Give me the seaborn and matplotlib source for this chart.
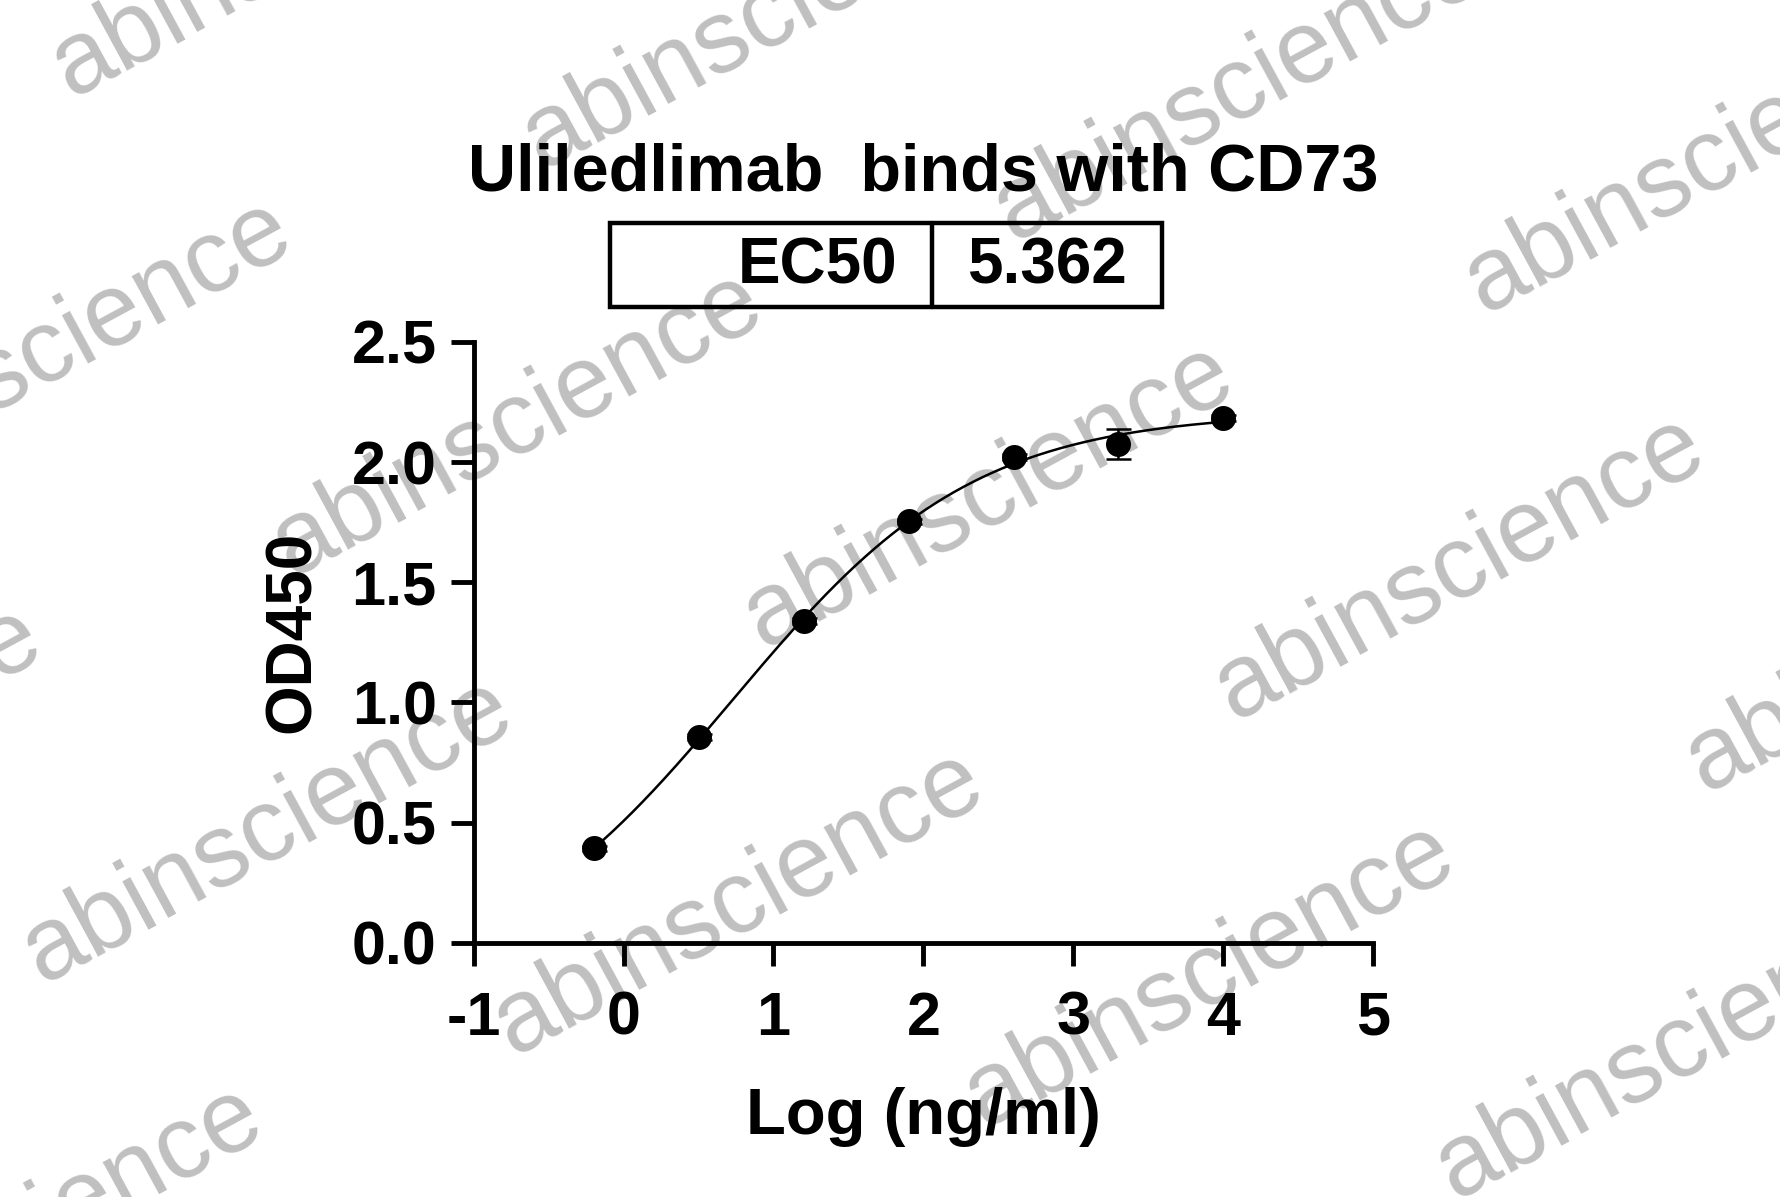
import numpy as np
import pandas as pd
import matplotlib
matplotlib.use("Agg")
import matplotlib.pyplot as plt
import seaborn as sns
from matplotlib.patches import Rectangle
from matplotlib.lines import Line2D

# ---------------- data ----------------
conc_ng_ml = [0.64, 3.2, 16, 80, 400, 2000, 10000]
od450 = [0.392, 0.857, 1.340, 1.753, 2.020, 2.075, 2.184]
od450_sd = [0.010, 0.012, 0.012, 0.012, 0.012, 0.062, 0.012]
ec50_ng_ml = 5.362
x_ticks = [-1, 0, 1, 2, 3, 4, 5]
x_tick_labels = ["-1", "0", "1", "2", "3", "4", "5"]
y_ticks = [0.0, 0.5, 1.0, 1.5, 2.0, 2.5]
y_tick_labels = ["0.0", "0.5", "1.0", "1.5", "2.0", "2.5"]
title_text = "Uliledlimab  binds with CD73"
x_label = "Log (ng/ml)"
y_label = "OD450"
watermark = "abinscience"

W, H = 1781, 1197
DPI = 100

sns.set_theme(style="ticks")
plt.rcParams["font.family"] = ["Liberation Sans", "DejaVu Sans"]
plt.rcParams["axes.unicode_minus"] = False

fig = plt.figure(figsize=(W / DPI, H / DPI), dpi=DPI, facecolor="white")


def fx(px):
    return px / W


def fy(py):
    return 1 - py / H


# axes placement (pixels)
ax_l, ax_r, ax_t, ax_b = 473.6, 1373.2, 341.9, 942.7
ax = fig.add_axes([fx(ax_l), fy(ax_b), (ax_r - ax_l) / W, (ax_b - ax_t) / H])
ax.set_facecolor("none")

lx = np.log10(np.array(conc_ng_ml, dtype=float))
yv = np.array(od450)
sd = np.array(od450_sd)

# 4PL fit with EC50 fixed at the reported value
logec = np.log10(ec50_ng_ml)
best = None
for h in np.arange(0.2, 3.0, 0.002):
    f = 1.0 / (1.0 + 10 ** ((logec - lx) * h))
    A = np.column_stack([1 - f, f])
    coef = np.linalg.lstsq(A, yv, rcond=None)[0]
    sse = float(np.sum((A @ coef - yv) ** 2))
    if best is None or sse < best[0]:
        best = (sse, h, coef[0], coef[1])
_, hill, bottom, top = best
xx = np.linspace(lx.min(), lx.max(), 400)
yy = bottom + (top - bottom) / (1.0 + 10 ** ((logec - xx) * hill))

curve = pd.DataFrame({"x": xx, "y": yy})
pts = pd.DataFrame({"x": lx, "y": yv})

sns.lineplot(data=curve, x="x", y="y", color="black", linewidth=1.8,
             estimator=None, ax=ax, zorder=2)
ax.errorbar(lx, yv, yerr=sd, fmt="none", ecolor="black", elinewidth=1.8,
            capsize=9, capthick=1.8, zorder=3)
sns.scatterplot(data=pts, x="x", y="y", s=324, color="black",
                edgecolor="black", linewidth=0, ax=ax, zorder=4, clip_on=False)

ax.set_xlim(-1, 5)
ax.set_ylim(0, 2.5)
ax.set_xticks(x_ticks)
ax.set_xticklabels(x_tick_labels)
ax.set_yticks(y_ticks)
ax.set_yticklabels(y_tick_labels)
ax.set_xlabel("")
ax.set_ylabel("")
sns.despine(ax=ax)
for s in ["left", "bottom"]:
    ax.spines[s].set_linewidth(3.5)
    ax.spines[s].set_color("black")
ax.tick_params(axis="both", direction="out", length=16.5, width=3.5,
               colors="black", labelsize=44)
ax.tick_params(axis="x", pad=18)
ax.tick_params(axis="y", pad=10)
for lab in ax.get_xticklabels() + ax.get_yticklabels():
    lab.set_fontweight("bold")

# title
fig.text(fx(923), fy(191), title_text, ha="center", va="baseline",
         fontsize=48, fontweight="bold", color="black")

# EC50 box
bx0, bx1, by0, by1, bdiv = 610, 1162, 223, 307, 932.5
fig.add_artist(Rectangle((fx(bx0), fy(by1)), (bx1 - bx0) / W, (by1 - by0) / H,
                         transform=fig.transFigure, fill=False,
                         edgecolor="black", linewidth=3.2))
fig.add_artist(Line2D([fx(bdiv), fx(bdiv)], [fy(by0), fy(by1)],
                      transform=fig.transFigure, color="black", linewidth=3.2))
fig.text(fx(897), fy(284), "EC50", ha="right", va="baseline",
         fontsize=46, fontweight="bold", color="black")
fig.text(fx(1047), fy(284), f"{ec50_ng_ml:.3f}", ha="center", va="baseline",
         fontsize=46, fontweight="bold", color="black")

# axis labels
fig.text(fx(923), fy(1134), x_label, ha="center", va="baseline",
         fontsize=47, fontweight="bold", color="black")
fig.text(fx(293), fy(632), y_label, ha="center", va="center", rotation=90,
         fontsize=46, fontweight="bold", color="black")

# watermarks
O = np.array([292.0, 576.0])
va_ = np.array([471.0, 72.0])
vb_ = np.array([-250.0, 407.0])
for i in range(-4, 7):
    for j in range(-4, 5):
        p = O + i * va_ + j * vb_
        if -650 < p[0] < W + 20 and -20 < p[1] < H + 240:
            fig.text(fx(p[0]), fy(p[1]), watermark, ha="left", va="baseline",
                     rotation=28.5, rotation_mode="anchor", fontsize=74,
                     color="black", alpha=0.25, zorder=100)

fig.savefig("out.png", dpi=DPI, facecolor="white")
